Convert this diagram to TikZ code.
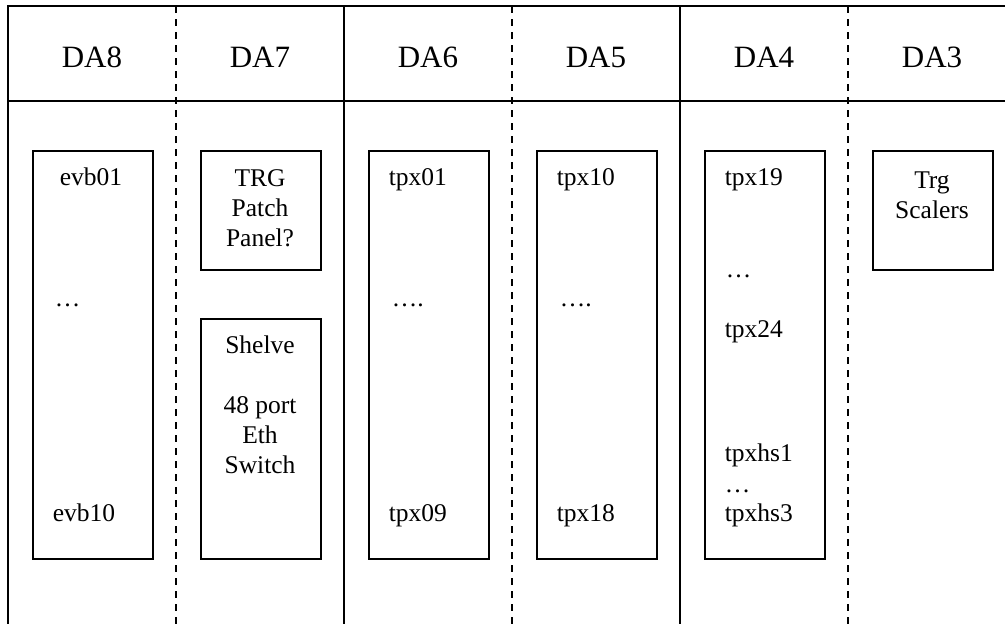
\documentclass[tikz,border=0pt]{standalone}
\usepackage{fontspec}
\setmainfont{Liberation Serif}
\begin{document}
\begin{tikzpicture}[x=1pt,y=-1pt,line width=1.6pt,
	rack/.style={draw,rectangle,minimum width=120pt,inner sep=0pt,anchor=north west},
	hdr/.style={font=\fontsize{31}{37}\selectfont,inner sep=0pt,anchor=base},
	lbl/.style={font=\fontsize{25.5}{30}\selectfont,inner sep=0pt,anchor=base west},
	mid/.style={font=\fontsize{25.5}{30}\selectfont,inner sep=0pt,align=center,anchor=north},
	split/.style={dash pattern=on 7pt off 6pt}]
		\useasboundingbox (0,0) rectangle (1005,624);
		\draw (8,624) -- (8,6) -- (1005,6);
		\draw (8,101) -- (1005,101);
		\draw[split] (176,6) -- (176,624);
		\draw (344,6) -- (344,624);
		\draw[split] (512,6) -- (512,624);
		\draw (680,6) -- (680,624);
		\draw[split] (848,6) -- (848,624);
		\node[hdr] (H8) at (92,67) {DA8};
		\node[hdr] (H7) at (260,67) {DA7};
		\node[hdr] (H6) at (428,67) {DA6};
		\node[hdr] (H5) at (596,67) {DA5};
		\node[hdr] (H4) at (764,67) {DA4};
		\node[hdr] (H3) at (932,67) {DA3};
		\node[rack,minimum height=408pt] (E) at (32,150) {};
		\node[rack,minimum height=119pt] (P) at (200,150) {};
		\node[rack,minimum height=240pt] (S) at (200,318) {};
		\node[rack,minimum height=408pt] (T1) at (368,150) {};
		\node[rack,minimum height=408pt] (T2) at (536,150) {};
		\node[rack,minimum height=408pt] (T3) at (704,150) {};
		\node[rack,minimum height=119pt] (R) at (872,150) {};
		\node[lbl] (e1) at (59,185) {evb01};
		\node[lbl] (e2) at (54,306) {…};
		\node[lbl] (e3) at (52,521) {evb10};
		\node[mid] (p1) at (260,169) {TRG\\Patch\\Panel?};
		\node[mid] (s1) at (260,335) {Shelve\\ \\48 port\\Eth\\Switch};
		\node[lbl] (a1) at (388,185) {tpx01};
		\node[lbl] (a2) at (391,306) {….};
		\node[lbl] (a3) at (388,521) {tpx09};
		\node[lbl] (b1) at (556,185) {tpx10};
		\node[lbl] (b2) at (559,306) {….};
		\node[lbl] (b3) at (556,521) {tpx18};
		\node[lbl] (c1) at (724,185) {tpx19};
		\node[lbl] (c2) at (725,277) {…};
		\node[lbl] (c3) at (724,337) {tpx24};
		\node[lbl] (c4) at (724,461) {tpxhs1};
		\node[lbl] (c5) at (724,492) {…};
		\node[lbl] (c6) at (724,521) {tpxhs3};
		\node[mid] (r1) at (932,171) {Trg\\Scalers};
	\end{tikzpicture}
\end{document}
